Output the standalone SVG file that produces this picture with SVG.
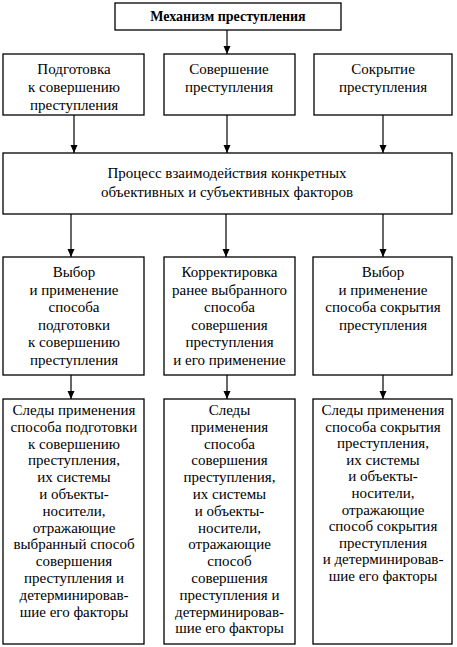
<svg xmlns="http://www.w3.org/2000/svg" width="457" height="647" viewBox="0 0 457 647">
<defs>
<marker id="ah" viewBox="0 0 8 10" refX="8" refY="5" markerWidth="8" markerHeight="10" markerUnits="userSpaceOnUse" orient="auto">
<path d="M0,1.5 L8,5 L0,8.5 Z" fill="#000"/>
</marker>
<style>
rect{fill:#fff;stroke:#000;stroke-width:1.3}
text{font-family:'Liberation Serif','Times New Roman',serif;font-size:15px;fill:#000;text-anchor:middle}
.b{font-weight:bold;font-size:14px}
.c line{stroke:#000;stroke-width:1.2;marker-end:url(#ah)}
</style>
</defs>
<rect x="0" y="0" width="457" height="647" style="fill:#fff;stroke:none"/>
<g class="c" id="connectors">
<line x1="227" y1="30" x2="227" y2="54"/>
<line x1="74" y1="115" x2="74" y2="153"/>
<line x1="227" y1="115" x2="227" y2="153"/>
<line x1="383" y1="115" x2="383" y2="153"/>
<line x1="71" y1="214" x2="71" y2="257"/>
<line x1="226" y1="214" x2="226" y2="257"/>
<line x1="383" y1="214" x2="383" y2="257"/>
<line x1="71" y1="375" x2="71" y2="399"/>
<line x1="227" y1="375" x2="227" y2="399"/>
<line x1="383" y1="375" x2="383" y2="399"/>
</g>
<g id="title">
<rect x="115" y="3" width="226" height="27"/>
<text class="b" x="228" y="21">Механизм преступления</text>
</g>
<g id="prep">
<rect x="3" y="54" width="141" height="61"/>
<text x="74" y="74">Подготовка</text>
<text x="74" y="92">к совершению</text>
<text x="74" y="110">преступления</text>
</g>
<g id="commit">
<rect x="164" y="54" width="131" height="61"/>
<text x="229" y="74">Совершение</text>
<text x="229" y="92">преступления</text>
</g>
<g id="conceal">
<rect x="314" y="54" width="138" height="61"/>
<text x="383" y="74">Сокрытие</text>
<text x="383" y="92">преступления</text>
</g>
<g id="process">
<rect x="3" y="153" width="449" height="61"/>
<text x="227" y="178">Процесс взаимодействия конкретных</text>
<text x="227" y="197">объективных и субъективных факторов</text>
</g>
<g id="choice1">
<rect x="3" y="257" width="141" height="118"/>
<text x="74" y="277">Выбор</text>
<text x="74" y="294.5">и применение</text>
<text x="74" y="312">способа</text>
<text x="74" y="329.5">подготовки</text>
<text x="74" y="347">к совершению</text>
<text x="74" y="364.5">преступления</text>
</g>
<g id="correct">
<rect x="164" y="257" width="131" height="118"/>
<text x="229.5" y="277">Корректировка</text>
<text x="229.5" y="294.5">ранее выбранного</text>
<text x="229.5" y="312">способа</text>
<text x="229.5" y="329.5">совершения</text>
<text x="229.5" y="347">преступления</text>
<text x="229.5" y="364.5">и его применение</text>
</g>
<g id="choice3">
<rect x="313" y="257" width="139" height="118"/>
<text x="383" y="277">Выбор</text>
<text x="383" y="294.5">и применение</text>
<text x="383" y="312">способа сокрытия</text>
<text x="383" y="329.5">преступления</text>
</g>
<g id="traces1">
<rect x="3" y="399" width="141" height="245"/>
<text x="74" y="415">Следы применения</text>
<text x="74" y="431.8">способа подготовки</text>
<text x="74" y="448.6">к совершению</text>
<text x="74" y="465.4">преступления,</text>
<text x="74" y="482.2">их системы</text>
<text x="74" y="499">и объекты-</text>
<text x="74" y="515.8">носители,</text>
<text x="74" y="532.6">отражающие</text>
<text x="74" y="549.4">выбранный способ</text>
<text x="74" y="566.2">совершения</text>
<text x="74" y="583">преступления и</text>
<text x="74" y="599.8">детерминировав-</text>
<text x="74" y="616.6">шие его факторы</text>
</g>
<g id="traces2">
<rect x="164" y="399" width="131" height="245"/>
<text x="229.5" y="415">Следы</text>
<text x="229.5" y="431.8">применения</text>
<text x="229.5" y="448.6">способа</text>
<text x="229.5" y="465.4">совершения</text>
<text x="229.5" y="482.2">преступления,</text>
<text x="229.5" y="499">их системы</text>
<text x="229.5" y="515.8">и объекты-</text>
<text x="229.5" y="532.6">носители,</text>
<text x="229.5" y="549.4">отражающие</text>
<text x="229.5" y="566.2">способ</text>
<text x="229.5" y="583">совершения</text>
<text x="229.5" y="599.8">преступления и</text>
<text x="229.5" y="616.6">детерминировав-</text>
<text x="229.5" y="633.4">шие его факторы</text>
</g>
<g id="traces3">
<rect x="313" y="399" width="139" height="245"/>
<text x="383" y="415">Следы применения</text>
<text x="383" y="431.6">способа сокрытия</text>
<text x="383" y="448.2">преступления,</text>
<text x="383" y="464.8">их системы</text>
<text x="383" y="481.4">и объекты-</text>
<text x="383" y="498">носители,</text>
<text x="383" y="514.6">отражающие</text>
<text x="383" y="531.2">способ сокрытия</text>
<text x="383" y="547.8">преступления</text>
<text x="383" y="564.4">и детерминировав-</text>
<text x="383" y="581">шие его факторы</text>
</g>
</svg>
